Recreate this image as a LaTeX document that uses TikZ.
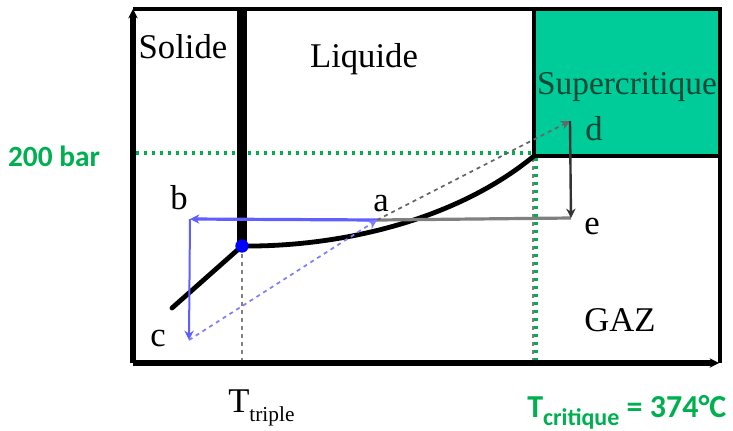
\documentclass[tikz,border=0pt]{standalone}
\usepackage{fontspec}
\setmainfont{Liberation Serif}
\newfontfamily\calfont{Carlito}
\usetikzlibrary{arrows.meta}
\definecolor{supergreen}{RGB}{0,204,153}
\definecolor{labgreen}{RGB}{0,176,80}
\definecolor{cycblue}{RGB}{95,95,255}
\begin{document}
\begin{tikzpicture}[>={Stealth[length=7pt,width=7pt]},x=0.75pt,y=-0.75pt,
txt/.style={font=\fontsize{26}{26}\selectfont,inner sep=0pt},
grtxt/.style={font=\calfont\bfseries\fontsize{22}{22}\selectfont,text=labgreen,inner sep=0pt},
gdots/.style={labgreen,line width=2.4pt,dash pattern=on 2.4pt off 3.6pt},
phaseline/.style={line width=3.6pt,line cap=round}]
\useasboundingbox (0,0) rectangle (733,430);
\coordinate (O) at (133,363);
\coordinate (ymax) at (133,9);
\coordinate (xmax) at (719,363);
\coordinate (triple) at (242,246);
\coordinate (crit) at (534,156);
\coordinate (fustop) at (242,9);
\coordinate (subl) at (172,308);
\coordinate (ptA) at (377,220);
\coordinate (ptB) at (190,219);
\coordinate (ptC) at (189,340);
\coordinate (ptD) at (570,121);
\coordinate (ptE) at (571,218);
\fill[supergreen] (534,9) rectangle (720,156);
\draw[line width=2.6pt] (534,9) |- (720,156);
\draw[line width=3pt] (ymax) -- (720,9) -- (720,363);
\draw[gray,dashed,line width=1.5pt] (triple) -- (242,362);
\draw[gray,dashed,line width=1.5pt] (533,158) -- (533,362);
\draw[gdots] (136,153) -- (crit|-0,153);
\draw[gdots] (536,158) -- (536,362);
\draw[line width=8pt] (triple) -- (fustop);
\draw[phaseline] (triple) -- (subl);
\draw[phaseline] (triple) .. controls (330,247) and (450,225) .. (crit);
\draw[->,line width=4.5pt] (O) -- (ymax);
\draw[->,line width=4.5pt] (O) -- (xmax);
\draw[gray,line width=2.4pt] (ptE) -- (ptA);
\draw[->,black!60,dashed,line width=1.3pt] (ptA) -- (ptD);
\draw[->,black!80,line width=1.8pt] (ptD) -- (ptE);
\draw[->,cycblue,line width=2.4pt] (ptA) -- (ptB);
\draw[->,cycblue,line width=1.5pt] (ptB) -- (ptC);
\draw[->,cycblue!80,dashed,line width=1.3pt] (ptC) -- (ptA);
\node[circle,fill=blue,inner sep=0pt,minimum size=10pt] (tp) at (triple) {};
\node[txt] (solide) at (183,47) {Solide};
\node[txt] (liquide) at (364,59) {Liquide};
\node[txt,text=black!65!supergreen,font=\fontsize{25}{25}\selectfont] (super) at (627,87) {Supercritique};
\node[txt,text=black!65!supergreen] (labD) at (594,129) {d};
\node[txt] (gaz) at (620,320) {GAZ};
\node[txt] (labA) at (381,204) {a};
\node[txt] (labB) at (179,198) {b};
\node[txt] (labC) at (158,338) {c};
\node[txt] (labE) at (592,226) {e};
\node[grtxt] (bar) at (54,156) {200 bar};
\node[txt,anchor=base west] (ttrip) at (228,412) {T\raisebox{-.28em}{\fontsize{16}{16}\selectfont triple}};
\node[grtxt,anchor=base west,font=\calfont\bfseries\fontsize{24}{24}\selectfont] (tcrit) at (527,417) {T\raisebox{-.28em}{\fontsize{18}{18}\selectfont critique} = 374°C};
\end{tikzpicture}
\end{document}
